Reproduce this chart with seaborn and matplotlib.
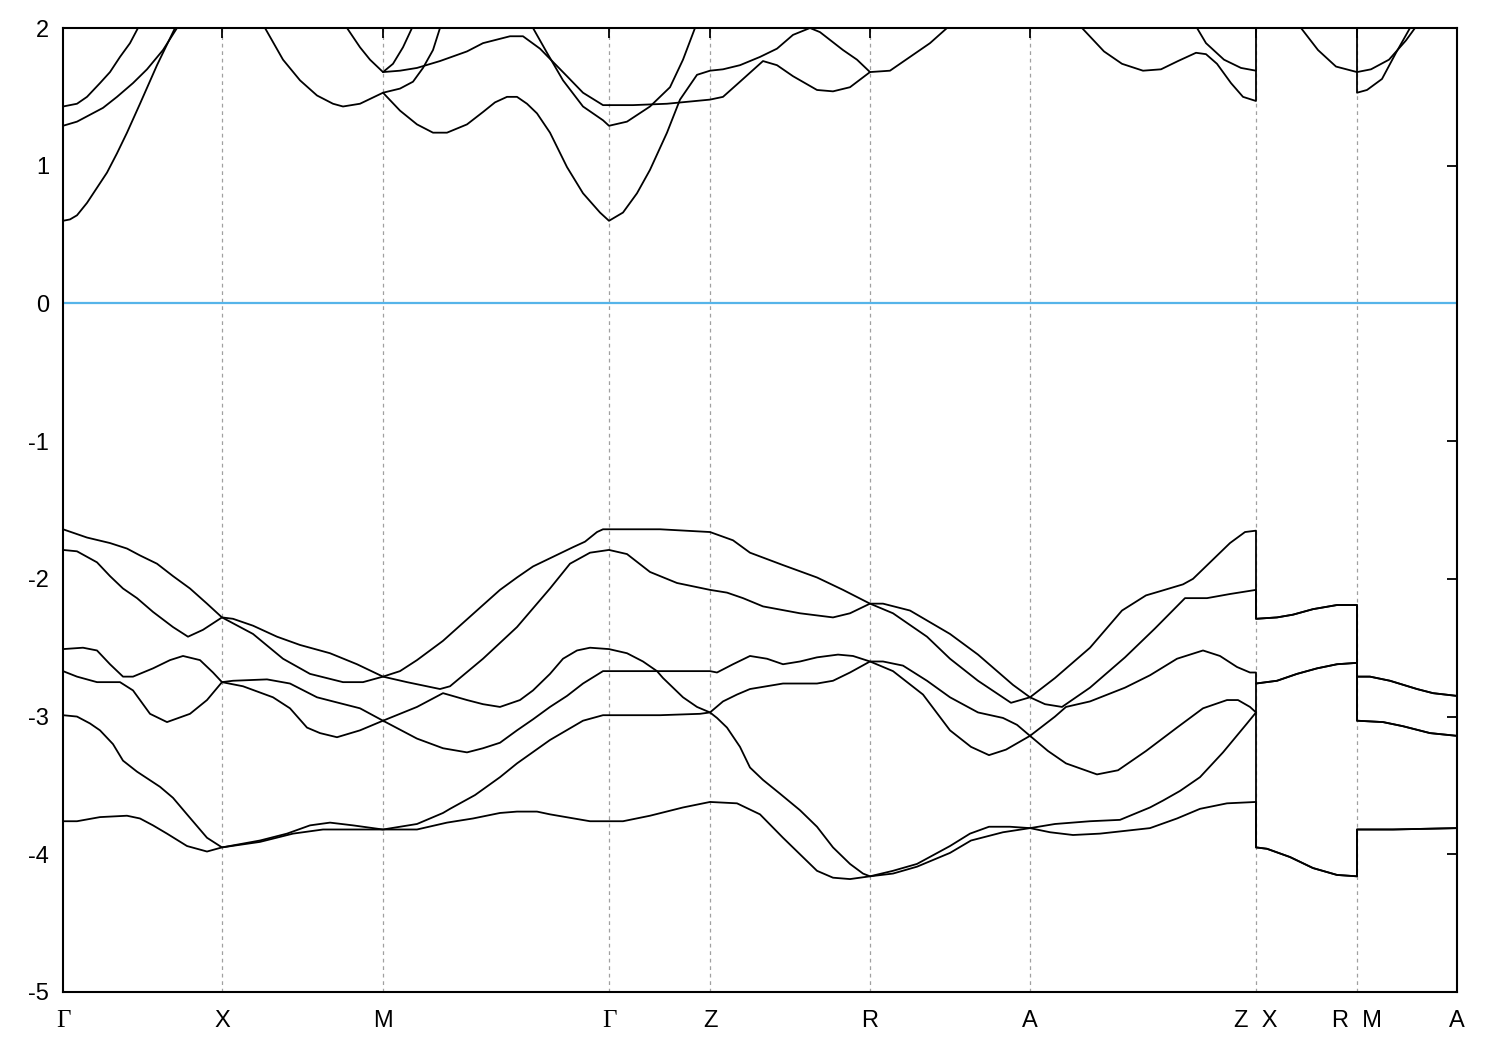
import numpy as np
import pandas as pd
import matplotlib
matplotlib.use("Agg")
import matplotlib.pyplot as plt
import seaborn as sns

# ---------------- data ----------------
# high-symmetry points along the k-path (path distance, arbitrary units)
sym_k = [0, 159, 320, 546, 647, 807, 967, 1193, 1294, 1394]
sym_labels = ["Γ", "X", "M", "Γ", "Z", "R", "A", "Z  X", "R  M", "A"]

# valence bands (sorted by energy), (k, E) in eV
vb1 = [(0, -1.64), (24, -1.70), (47, -1.74), (64, -1.78), (77, -1.83), (94, -1.89), (110, -1.98),
       (127, -2.07), (144, -2.18), (159, -2.28),
       (170, -2.29), (190, -2.34), (214, -2.42), (237, -2.48), (267, -2.54), (294, -2.62), (320, -2.71),
       (337, -2.67), (354, -2.59), (380, -2.45), (400, -2.32), (420, -2.19), (437, -2.08), (454, -1.99),
       (470, -1.91), (490, -1.84), (510, -1.77), (522, -1.73), (534, -1.66), (540, -1.64), (546, -1.64),
       (597, -1.64), (647, -1.66),
       (670, -1.72), (687, -1.81), (720, -1.90), (754, -1.99), (780, -2.08), (807, -2.18),
       (820, -2.18), (847, -2.23), (887, -2.40), (915, -2.55), (950, -2.77), (967, -2.86),
       (992, -2.72), (1027, -2.50), (1059, -2.23), (1083, -2.12), (1097, -2.09), (1120, -2.04),
       (1130, -2.00), (1167, -1.74), (1182, -1.66), (1193, -1.65),
       (1193, -2.29), (1214, -2.28), (1230, -2.26), (1250, -2.22), (1274, -2.19), (1294, -2.19),
       (1294, -2.71), (1307, -2.71), (1327, -2.74), (1354, -2.80), (1370, -2.83), (1394, -2.85)]

vb2 = [(0, -1.79), (14, -1.80), (34, -1.88), (47, -1.98), (60, -2.07), (74, -2.14), (90, -2.24),
       (110, -2.35), (125, -2.42), (140, -2.37), (159, -2.28),
       (190, -2.40), (220, -2.58), (247, -2.69), (280, -2.75), (300, -2.75), (320, -2.71),
       (344, -2.75), (377, -2.80), (387, -2.78), (420, -2.58), (454, -2.35), (487, -2.07),
       (507, -1.89), (527, -1.81), (546, -1.79),
       (564, -1.82), (587, -1.95), (614, -2.03), (647, -2.08),
       (664, -2.10), (680, -2.14), (700, -2.20), (737, -2.25), (770, -2.28), (787, -2.25), (807, -2.18),
       (830, -2.25), (864, -2.42), (887, -2.58), (915, -2.74), (948, -2.90), (967, -2.86),
       (982, -2.91), (999, -2.93), (1027, -2.79), (1062, -2.57), (1092, -2.36), (1122, -2.14),
       (1144, -2.14), (1167, -2.11), (1193, -2.08),
       (1193, -2.29), (1214, -2.28), (1230, -2.26), (1250, -2.22), (1274, -2.19), (1294, -2.19),
       (1294, -2.71), (1307, -2.71), (1327, -2.74), (1354, -2.80), (1370, -2.83), (1394, -2.85)]

vb3 = [(0, -2.51), (20, -2.50), (34, -2.52), (47, -2.62), (60, -2.71), (70, -2.71), (90, -2.65),
       (107, -2.59), (120, -2.56), (137, -2.59), (150, -2.68), (159, -2.75),
       (170, -2.74), (204, -2.73), (227, -2.76), (254, -2.86), (270, -2.89), (297, -2.94), (320, -3.03),
       (354, -2.93), (380, -2.83), (404, -2.88), (420, -2.91), (437, -2.93), (457, -2.88), (470, -2.81),
       (487, -2.69), (500, -2.58), (514, -2.52), (527, -2.50), (546, -2.51),
       (564, -2.54), (580, -2.60), (594, -2.67), (620, -2.67), (647, -2.67),
       (654, -2.68), (670, -2.62), (687, -2.56), (704, -2.58), (720, -2.62), (737, -2.60), (754, -2.57),
       (775, -2.55), (790, -2.56), (807, -2.60),
       (820, -2.60), (840, -2.63), (864, -2.74), (887, -2.86), (915, -2.97), (940, -3.01), (954, -3.06),
       (967, -3.14),
       (992, -3.00), (1003, -2.93), (1027, -2.89), (1062, -2.79), (1087, -2.70), (1114, -2.58),
       (1140, -2.52), (1157, -2.56), (1174, -2.64), (1187, -2.68), (1193, -2.68),
       (1193, -2.76), (1214, -2.74), (1234, -2.69), (1254, -2.65), (1274, -2.62), (1294, -2.61),
       (1294, -3.03), (1320, -3.04), (1340, -3.07), (1367, -3.12), (1394, -3.14)]

vb4 = [(0, -2.67), (14, -2.71), (34, -2.75), (57, -2.75), (70, -2.81), (87, -2.98), (104, -3.04),
       (127, -2.98), (144, -2.88), (159, -2.75),
       (180, -2.78), (210, -2.86), (227, -2.94), (244, -3.08), (257, -3.12), (274, -3.15), (297, -3.10),
       (320, -3.03),
       (354, -3.16), (380, -3.23), (404, -3.26), (420, -3.23), (437, -3.19), (454, -3.10), (470, -3.02),
       (487, -2.93), (504, -2.85), (520, -2.76), (540, -2.67), (546, -2.67),
       (594, -2.67), (600, -2.72), (620, -2.86), (634, -2.93), (647, -2.97),
       (660, -2.89), (674, -2.84), (687, -2.80), (720, -2.76), (754, -2.76), (770, -2.74), (787, -2.68),
       (807, -2.60),
       (830, -2.67), (860, -2.84), (887, -3.10), (908, -3.22), (926, -3.28), (943, -3.24), (967, -3.14),
       (985, -3.25), (1003, -3.34), (1034, -3.42), (1055, -3.39), (1083, -3.25), (1114, -3.08),
       (1140, -2.94), (1164, -2.88), (1175, -2.88), (1187, -2.93), (1193, -2.97),
       (1193, -2.76), (1214, -2.74), (1234, -2.69), (1254, -2.65), (1274, -2.62), (1294, -2.61),
       (1294, -3.03), (1320, -3.04), (1340, -3.07), (1367, -3.12), (1394, -3.14)]

vb5 = [(0, -2.99), (14, -3.00), (27, -3.05), (37, -3.10), (50, -3.20), (60, -3.32), (74, -3.40),
       (97, -3.51), (110, -3.59), (124, -3.71), (144, -3.88), (159, -3.95),
       (197, -3.90), (224, -3.85), (247, -3.79), (267, -3.77), (290, -3.79), (320, -3.82),
       (354, -3.78), (380, -3.70), (387, -3.67), (412, -3.57), (437, -3.44), (454, -3.34), (487, -3.17),
       (520, -3.03), (540, -2.99), (546, -2.99),
       (597, -2.99), (637, -2.98), (647, -2.97),
       (654, -3.01), (664, -3.08), (677, -3.22), (687, -3.37), (700, -3.46), (717, -3.56), (737, -3.68),
       (754, -3.80), (770, -3.95), (787, -4.07), (800, -4.14), (807, -4.16),
       (830, -4.12), (854, -4.07), (887, -3.94), (907, -3.85), (926, -3.80), (947, -3.80), (967, -3.81),
       (992, -3.78), (1027, -3.76), (1057, -3.75), (1087, -3.66), (1100, -3.61), (1117, -3.54),
       (1137, -3.44), (1160, -3.26), (1184, -3.05), (1193, -2.97),
       (1193, -3.95), (1204, -3.96), (1227, -4.02), (1250, -4.10), (1274, -4.15), (1294, -4.16),
       (1294, -3.82), (1330, -3.82), (1394, -3.81)]

vb6 = [(0, -3.76), (14, -3.76), (37, -3.73), (64, -3.72), (77, -3.74), (90, -3.79), (104, -3.85),
       (124, -3.94), (144, -3.98), (159, -3.95),
       (197, -3.91), (230, -3.85), (260, -3.82), (320, -3.82),
       (354, -3.82), (384, -3.77), (410, -3.74), (437, -3.70), (454, -3.69), (474, -3.69), (487, -3.71),
       (527, -3.76), (546, -3.76), (560, -3.76), (587, -3.72), (620, -3.66), (647, -3.62),
       (674, -3.63), (697, -3.71), (720, -3.88), (737, -4.00), (754, -4.12), (770, -4.17), (787, -4.18),
       (807, -4.16),
       (830, -4.14), (854, -4.09), (887, -3.99), (908, -3.90), (940, -3.84), (967, -3.81),
       (987, -3.84), (1010, -3.86), (1037, -3.85), (1062, -3.83), (1087, -3.81), (1114, -3.74),
       (1137, -3.67), (1164, -3.63), (1193, -3.62),
       (1193, -3.95), (1204, -3.96), (1227, -4.02), (1250, -4.10), (1274, -4.15), (1294, -4.16),
       (1294, -3.82), (1330, -3.82), (1394, -3.81)]

# conduction-band pieces visible below 2 eV (a value of 2.00 marks where a band leaves the window)
cb1 = [(0, 0.60), (7, 0.61), (14, 0.64), (24, 0.73), (34, 0.84), (44, 0.95), (54, 1.09), (64, 1.24),
       (77, 1.45), (94, 1.73), (112, 2.00)]
cb2 = [(0, 1.29), (14, 1.32), (27, 1.37), (40, 1.42), (54, 1.50), (70, 1.60), (84, 1.70), (100, 1.84),
       (114, 2.00)]
cb3 = [(0, 1.43), (14, 1.45), (24, 1.50), (37, 1.60), (47, 1.68), (57, 1.79), (67, 1.89), (75, 2.00)]
cb4 = [(202, 2.00), (220, 1.77), (237, 1.62), (254, 1.51), (270, 1.45), (280, 1.43), (297, 1.45),
       (320, 1.53), (337, 1.40), (354, 1.30), (370, 1.24), (384, 1.24), (404, 1.30), (420, 1.39),
       (432, 1.46), (444, 1.50), (454, 1.50), (464, 1.45), (474, 1.38), (487, 1.24), (504, 0.99),
       (520, 0.80), (537, 0.66), (546, 0.60), (560, 0.66), (574, 0.80), (587, 0.97), (604, 1.24),
       (617, 1.48), (634, 1.66), (647, 1.69), (660, 1.70), (677, 1.73), (697, 1.79), (714, 1.85),
       (730, 1.95), (747, 2.00), (757, 1.97), (780, 1.84), (794, 1.77), (807, 1.68), (827, 1.69),
       (847, 1.79), (867, 1.89), (884, 2.00)]
cb5 = [(320, 1.53), (337, 1.56), (350, 1.61), (360, 1.71), (370, 1.84), (377, 2.00)]
cb6 = [(284, 2.00), (297, 1.86), (307, 1.77), (320, 1.68), (330, 1.74), (340, 1.86), (349, 2.00)]
cb7 = [(320, 1.68), (337, 1.69), (354, 1.71), (377, 1.76), (404, 1.83), (420, 1.89), (447, 1.94),
       (460, 1.94), (477, 1.85), (504, 1.65), (520, 1.53), (540, 1.44), (570, 1.44), (604, 1.45),
       (647, 1.48), (660, 1.50), (677, 1.61), (700, 1.76), (714, 1.73), (730, 1.65), (754, 1.55),
       (770, 1.54), (787, 1.57), (807, 1.68)]
cb8 = [(470, 2.00), (484, 1.82), (500, 1.62), (520, 1.43), (540, 1.33), (546, 1.29), (564, 1.32),
       (587, 1.43), (607, 1.57), (620, 1.77), (632, 2.00)]
cb9 = [(1019, 2.00), (1041, 1.83), (1059, 1.74), (1080, 1.69), (1098, 1.70), (1115, 1.76),
       (1133, 1.82), (1143, 1.81), (1154, 1.74), (1168, 1.60), (1180, 1.50), (1193, 1.47), (1193, 2.00)]
cb10 = [(1134, 2.00), (1143, 1.89), (1161, 1.77), (1178, 1.71), (1193, 1.69)]
cb11 = [(1238, 2.00), (1255, 1.84), (1273, 1.72), (1294, 1.68), (1294, 1.53), (1304, 1.55),
        (1319, 1.63), (1333, 1.82), (1347, 2.00)]
cb12 = [(1294, 2.00), (1294, 1.68), (1308, 1.70), (1326, 1.77), (1343, 1.91), (1352, 2.00)]

curves = {"vb1": vb1, "vb2": vb2, "vb3": vb3, "vb4": vb4, "vb5": vb5, "vb6": vb6,
          "cb1": cb1, "cb2": cb2, "cb3": cb3, "cb4": cb4, "cb5": cb5, "cb6": cb6,
          "cb7": cb7, "cb8": cb8, "cb9": cb9, "cb10": cb10, "cb11": cb11, "cb12": cb12}

rows = []
for name, pts in curves.items():
    for i, (k, e) in enumerate(pts):
        rows.append({"curve": name, "order": i, "k": k, "E": e})
df = pd.DataFrame(rows)

# ---------------- plot ----------------
sns.set_theme(style="white")
plt.rcParams["font.family"] = ["Liberation Sans", "DejaVu Sans"]
plt.rcParams["axes.unicode_minus"] = False

fig = plt.figure(figsize=(15, 10.5), dpi=100)
ax = fig.add_axes([63 / 1500, 1 - 992 / 1050, (1457 - 63) / 1500, (992 - 28) / 1050])

for xk in sym_k[1:-1]:
    ax.axvline(xk, color="#a0a0a0", lw=0.9, ls=(0, (3, 3)), zorder=0)
ax.axhline(0, color="#56b4e9", lw=1.6, zorder=1)

sns.lineplot(data=df, x="k", y="E", units="curve", estimator=None, sort=False,
             color="black", lw=1.3, ax=ax, legend=False, zorder=3)

ax.set_xlim(sym_k[0], sym_k[-1])
ax.set_ylim(-5, 2)
ax.set_xticks(sym_k)
ax.set_xticklabels(sym_labels)
ax.set_yticks(range(-5, 3))
ax.set_yticklabels([str(v) for v in range(-5, 3)])
ax.set_xlabel("")
ax.set_ylabel("")

ax.tick_params(axis="both", direction="in", length=7.5, width=1.3, color="black",
               top=True, right=True, labelsize=17, labelcolor="black")
ax.tick_params(axis="x", pad=13)
ax.tick_params(axis="y", pad=10)

for lbl in ax.get_xticklabels():
    if lbl.get_text() == "Γ":
        lbl.set_fontfamily(["Liberation Serif", "DejaVu Serif"])
        lbl.set_fontsize(18)

for s in ax.spines.values():
    s.set_visible(True)
    s.set_color("black")
    s.set_linewidth(1.5)

fig.savefig("out.png", dpi=100, facecolor="white")
